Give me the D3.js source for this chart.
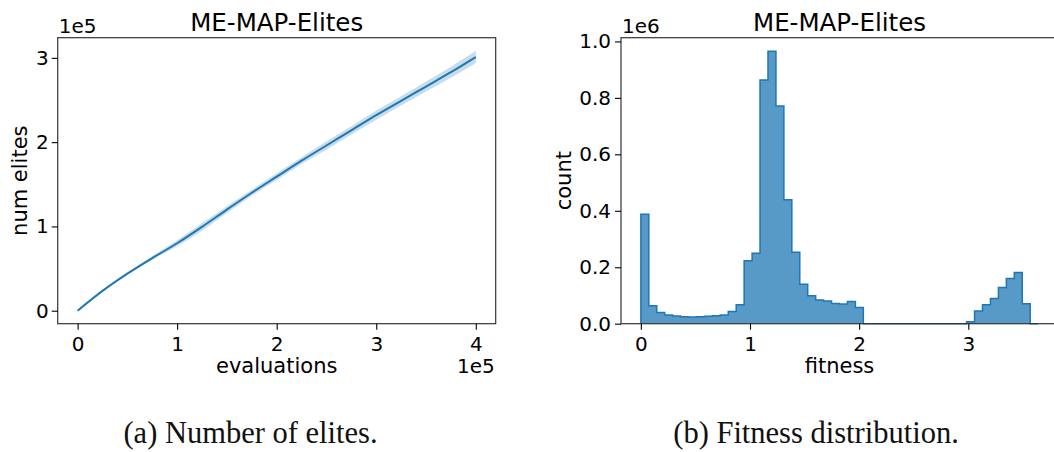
<!DOCTYPE html>
<html>
<head>
<meta charset="utf-8">
<script src="https://cdn.jsdelivr.net/npm/d3@7"></script>
<style>
  html, body { margin: 0; padding: 0; background: #fff; }
  svg { display: block; }
  .tick text { font-family: "DejaVu Sans", sans-serif; font-size: 20px; fill: #000; }
  .tick line { stroke: #000; stroke-width: 1.1; }
  .title { font-family: "DejaVu Sans", sans-serif; font-size: 24.5px; fill: #000; }
  .label { font-family: "DejaVu Sans", sans-serif; font-size: 21px; fill: #000; }
  .offset { font-family: "DejaVu Sans", sans-serif; font-size: 20px; fill: #000; }
  .caption { font-family: "Liberation Serif", serif; font-size: 30.5px; fill: #111; }
</style>
</head>
<body>
<script>
// ---- Number of elites over evaluations (mean with confidence band) ----
const evaluations = [0, 25000, 50000, 75000, 100000, 125000, 150000, 175000, 200000,
                     225000, 250000, 275000, 300000, 325000, 350000, 375000, 400000];
const elitesMean  = [0, 23500, 44000, 62500, 80000, 99500, 120000, 140000, 159000,
                     178000, 196000, 214000, 232000, 249000, 266000, 283000, 301000];
const elitesLower = [0, 23000, 43000, 60500, 76500, 95000, 116000, 136500, 155000,
                     174000, 191000, 209000, 226500, 243500, 260000, 276500, 293500];
const elitesUpper = [0, 24000, 45000, 64500, 83500, 104000, 124000, 143500, 163000,
                     182000, 201000, 219000, 237500, 254500, 272000, 289500, 308500];
const evalTicks   = [0, 100000, 200000, 300000, 400000];
const eliteTicks  = [0, 100000, 200000, 300000];

// ---- Fitness histogram (50 equal-width bins from 0 to fitnessMax) ----
const fitnessMin = 0;
const fitnessMax = 3.64;
const fitnessCounts = [388000, 64000, 40000, 31000, 27000, 25000, 24000, 25000, 26000, 28000,
                       31000, 43000, 67000, 223000, 250000, 863000, 965000, 771000, 439000, 253000,
                       140000, 99000, 84000, 80000, 72000, 70000, 79000, 57000, 0, 0,
                       0, 0, 0, 0, 0, 0, 0, 0, 0, 0,
                       0, 7000, 45000, 67000, 89000, 128000, 160000, 181000, 71000, 0];
const fitnessTicks = [0, 1, 2, 3];
const countTicks   = [0, 200000, 400000, 600000, 800000, 1000000];

const titleText = "ME-MAP-Elites";
const captions = ["(a) Number of elites.", "(b) Fitness distribution."];

const W = 1054, H = 452;
const C0 = "#1f77b4";

const svg = d3.select("body").append("svg").attr("width", W).attr("height", H);

function frame(g, b) {
  g.append("rect")
    .attr("x", b.x0).attr("y", b.y0)
    .attr("width", b.x1 - b.x0).attr("height", b.y1 - b.y0)
    .attr("fill", "none").attr("stroke", "#333").attr("stroke-width", 1.2);
}

function styleAxis(sel) {
  sel.select(".domain").remove();
}

// ================= Left panel =================
{
  const b = { x0: 57.7, x1: 495.7, y0: 37.7, y1: 323.7 };
  const xmax = d3.max(evaluations);
  const x = d3.scaleLinear().domain([-0.05 * xmax, 1.05 * xmax]).range([b.x0, b.x1]);
  const lo = d3.min(elitesLower), hi = d3.max(elitesUpper);
  const span = hi - lo;
  const y = d3.scaleLinear().domain([lo - 0.05 * span, hi + 0.05 * span]).range([b.y1, b.y0]);

  const g = svg.append("g");

  const pts = evaluations.map((e, i) => ({ e, m: elitesMean[i], l: elitesLower[i], u: elitesUpper[i] }));

  g.append("path").datum(pts)
    .attr("d", d3.area().x(d => x(d.e)).y0(d => y(d.l)).y1(d => y(d.u)).curve(d3.curveMonotoneX))
    .attr("fill", C0).attr("fill-opacity", 0.25).attr("stroke", "none");

  g.append("path").datum(pts)
    .attr("d", d3.line().x(d => x(d.e)).y(d => y(d.m)).curve(d3.curveMonotoneX))
    .attr("fill", "none").attr("stroke", C0).attr("stroke-width", 2);

  frame(g, b);

  g.append("g").attr("transform", `translate(0,${b.y1})`)
    .call(d3.axisBottom(x).tickValues(evalTicks).tickFormat(d => d3.format("d")(d / 1e5)).tickSize(6).tickPadding(7))
    .call(styleAxis);
  g.append("g").attr("transform", `translate(${b.x0},0)`)
    .call(d3.axisLeft(y).tickValues(eliteTicks).tickFormat(d => d3.format("d")(d / 1e5)).tickSize(6).tickPadding(3))
    .call(styleAxis);

  g.append("text").attr("class", "title").attr("x", (b.x0 + b.x1) / 2).attr("y", 30.5)
    .attr("text-anchor", "middle").text(titleText);
  g.append("text").attr("class", "offset").attr("x", b.x0 + 1).attr("y", 33).text("1e5");
  g.append("text").attr("class", "offset").attr("x", b.x1 - 1).attr("y", 373).attr("text-anchor", "end").text("1e5");
  g.append("text").attr("class", "label").attr("x", (b.x0 + b.x1) / 2).attr("y", 373)
    .attr("text-anchor", "middle").text("evaluations");
  g.append("text").attr("class", "label")
    .attr("transform", `translate(27,${(b.y0 + b.y1) / 2}) rotate(-90)`)
    .attr("text-anchor", "middle").text("num elites");

  svg.append("text").attr("class", "caption").attr("x", 250.5).attr("y", 443)
    .attr("text-anchor", "middle").text(captions[0]);
}

// ================= Right panel =================
{
  const b = { x0: 621, x1: 1058, y0: 37.7, y1: 323.7 };
  const nb = fitnessCounts.length;
  const edges = d3.range(nb + 1).map(i => fitnessMin + (fitnessMax - fitnessMin) * i / nb);
  const xr = fitnessMax - fitnessMin;
  const x = d3.scaleLinear().domain([fitnessMin - 0.05 * xr, fitnessMax + 0.05 * xr]).range([b.x0, b.x1]);
  const y = d3.scaleLinear().domain([0, 1.05 * d3.max(fitnessCounts)]).range([b.y1, b.y0]);

  const g = svg.append("g");

  // step points: each bin's count held from its left edge to the next edge
  const steps = fitnessCounts.map((c, i) => ({ x: edges[i], c }));
  steps.push({ x: edges[nb], c: fitnessCounts[nb - 1] });

  g.append("path").datum(steps)
    .attr("d", d3.area().x(d => x(d.x)).y0(y(0)).y1(d => y(d.c)).curve(d3.curveStepAfter))
    .attr("fill", C0).attr("fill-opacity", 0.75).attr("stroke", "none");

  const outline = [{ x: edges[0], c: 0 }].concat(steps).concat([{ x: edges[nb], c: 0 }]);
  g.append("path").datum(outline)
    .attr("d", d3.line().x(d => x(d.x)).y(d => y(d.c)).curve(d3.curveStepAfter))
    .attr("fill", "none").attr("stroke", C0).attr("stroke-width", 1.5);

  frame(g, b);

  g.append("g").attr("transform", `translate(0,${b.y1})`)
    .call(d3.axisBottom(x).tickValues(fitnessTicks).tickFormat(d3.format("d")).tickSize(6).tickPadding(7))
    .call(styleAxis);
  g.append("g").attr("transform", `translate(${b.x0},0)`)
    .call(d3.axisLeft(y).tickValues(countTicks).tickFormat(d => d3.format(".1f")(d / 1e6)).tickSize(6).tickPadding(4))
    .call(styleAxis);

  g.append("text").attr("class", "title").attr("x", (b.x0 + b.x1) / 2).attr("y", 30.5)
    .attr("text-anchor", "middle").text(titleText);
  g.append("text").attr("class", "offset").attr("x", b.x0 + 1).attr("y", 33).text("1e6");
  g.append("text").attr("class", "label").attr("x", (b.x0 + b.x1) / 2).attr("y", 373)
    .attr("text-anchor", "middle").text("fitness");
  g.append("text").attr("class", "label")
    .attr("transform", `translate(570.5,${(b.y0 + b.y1) / 2}) rotate(-90)`)
    .attr("text-anchor", "middle").text("count");

  svg.append("text").attr("class", "caption").attr("x", 816).attr("y", 443)
    .attr("text-anchor", "middle").text(captions[1]);
}
</script>
</body>
</html>
